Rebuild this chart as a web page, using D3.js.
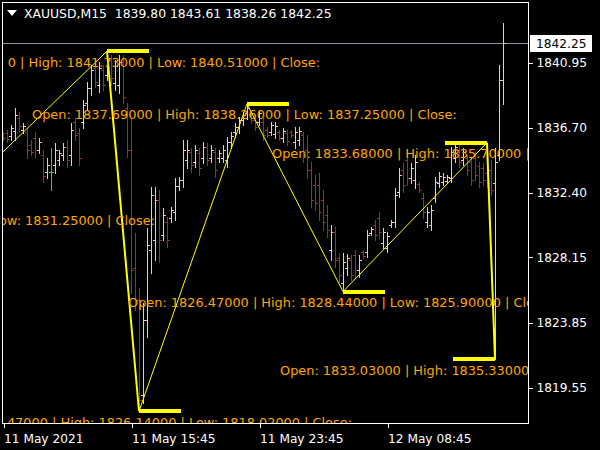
<!DOCTYPE html>
<html><head><meta charset="utf-8">
<script src="https://cdn.jsdelivr.net/npm/d3@7"></script>
<style>html,body{margin:0;padding:0;background:#000;}svg{display:block;}</style>
</head><body>
<script>
// ---------- data ----------
const symbol = "XAUUSD,M15";
const opens = [
1836.28,1836.34,1836.15,1836.47,1837.33,1836.54,1836.41,1835.55,1836.01,1835.23,
1834.90,1833.78,1833.78,1834.24,1834.57,1834.90,1835.42,1834.90,1837.07,1836.34,
1837.07,1838.32,1839.30,1840.62,1839.50,1840.49,1840.16,1841.15,1839.63,1839.50,
1841.02,1837.99,1835.23,1827.45,1825.35,1819.10,1824.03,1828.64,1829.30,1831.93,
1829.63,1830.49,1830.75,1831.15,1832.85,1833.25,1834.57,1835.10,1834.44,1835.03,
1834.70,1835.42,1834.70,1835.10,1834.70,1834.70,1834.57,1835.75,1836.41,1836.74,
1837.20,1837.69,1837.53,1837.20,1837.07,1837.07,1836.54,1836.41,1836.28,1836.41,
1836.01,1836.34,1836.41,1835.75,1835.88,1836.21,1835.23,1833.91,1832.92,1832.92,
1831.93,1830.95,1828.64,1829.83,1828.12,1826.47,1827.46,1827.98,1828.31,1827.33,
1828.51,1828.51,1829.76,1830.29,1830.75,1829.10,1828.77,1830.29,1830.49,1832.46,
1833.91,1834.57,1833.38,1833.25,1832.99,1832.07,1830.49,1830.29,1832.07,1833.05,
1833.12,1833.18,1833.38,1834.70,1835.23,1834.57,1834.70,1834.44,1834.70,1834.17,
1834.04,1833.68,1833.91,1833.03,1834.90,1839.80];
const highs = [
1836.41,1836.54,1836.87,1837.99,1837.73,1837.00,1836.67,1835.88,1836.41,1836.01,
1835.23,1834.70,1835.36,1835.68,1835.23,1835.68,1835.88,1837.00,1837.33,1836.67,
1838.52,1839.70,1840.82,1841.02,1841.02,1840.82,1841.73,1841.48,1841.15,1841.48,
1841.48,1838.32,1837.40,1829.76,1826.14,1825.15,1830.09,1832.79,1832.79,1832.59,
1831.40,1830.82,1831.47,1833.38,1833.45,1835.88,1835.88,1835.36,1835.55,1835.36,
1835.75,1835.68,1835.55,1835.36,1835.23,1835.55,1836.08,1836.41,1837.00,1837.40,
1837.73,1838.26,1837.66,1837.40,1837.86,1837.33,1836.74,1837.07,1837.07,1836.54,
1836.67,1836.54,1836.54,1836.74,1836.74,1836.41,1836.21,1834.44,1833.58,1833.71,
1832.59,1831.61,1830.29,1830.16,1828.45,1828.44,1828.40,1828.31,1828.64,1828.31,
1828.64,1829.96,1830.16,1830.62,1831.15,1830.09,1829.83,1830.62,1832.72,1834.04,
1834.37,1835.23,1834.37,1834.90,1833.12,1832.39,1831.47,1831.61,1833.45,1833.78,
1833.71,1833.58,1835.42,1835.62,1835.55,1835.36,1834.90,1834.70,1835.10,1834.44,
1834.37,1835.70,1834.57,1835.33,1840.82,1843.61];
const lows = [
1835.88,1835.75,1835.88,1835.88,1836.41,1836.34,1834.70,1834.90,1834.77,1835.03,
1833.12,1833.38,1832.59,1833.71,1834.24,1834.57,1834.11,1834.24,1835.88,1834.24,
1836.67,1837.86,1838.85,1839.37,1839.05,1839.18,1839.83,1839.50,1839.18,1838.98,
1838.32,1834.77,1825.81,1824.69,1818.02,1818.57,1822.92,1827.13,1827.98,1827.85,
1829.30,1828.84,1830.49,1830.62,1832.59,1832.79,1834.04,1833.78,1834.11,1833.58,
1834.37,1834.24,1834.44,1833.45,1834.44,1834.44,1834.11,1835.36,1836.08,1836.34,
1836.87,1837.25,1837.00,1836.54,1836.87,1835.88,1836.08,1836.21,1836.01,1835.88,
1835.75,1835.55,1836.08,1835.36,1835.55,1834.44,1833.38,1831.47,1831.28,1830.62,
1829.96,1829.50,1827.98,1827.52,1826.54,1825.90,1827.00,1826.67,1826.87,1826.87,
1828.12,1828.18,1829.63,1829.30,1829.43,1828.77,1828.51,1830.16,1830.16,1832.13,
1832.46,1832.92,1833.05,1832.72,1832.46,1830.75,1830.16,1829.96,1831.80,1832.79,
1832.92,1833.05,1833.12,1834.44,1834.11,1834.24,1833.58,1832.92,1833.25,1832.79,
1832.92,1832.79,1832.26,1821.45,1834.57,1838.26];
const closes = [
1836.01,1835.95,1836.67,1837.53,1836.81,1836.81,1835.23,1835.10,1835.23,1835.75,
1833.52,1834.24,1833.78,1835.23,1835.03,1835.42,1834.57,1836.54,1836.21,1834.70,
1838.19,1839.30,1840.49,1839.70,1840.62,1839.50,1841.28,1839.96,1840.76,1841.02,
1838.72,1835.23,1827.33,1825.35,1818.77,1824.03,1828.97,1832.26,1831.93,1829.30,
1830.95,1829.30,1831.28,1832.85,1833.25,1835.23,1835.23,1834.24,1835.23,1834.04,
1835.42,1834.57,1835.23,1833.91,1835.03,1835.23,1835.75,1836.15,1836.74,1837.20,
1837.53,1837.99,1837.20,1836.74,1837.66,1836.21,1836.21,1836.87,1836.81,1836.01,
1836.47,1835.82,1836.21,1836.41,1836.47,1834.90,1833.91,1831.93,1831.74,1831.15,
1830.49,1829.96,1829.83,1827.98,1827.00,1827.85,1828.12,1827.00,1827.33,1827.98,
1828.25,1829.63,1830.03,1829.63,1829.83,1829.83,1829.56,1830.49,1832.26,1833.58,
1832.92,1833.38,1834.04,1834.44,1832.59,1831.15,1831.15,1831.28,1833.12,1833.52,
1833.45,1833.45,1835.10,1835.42,1834.44,1835.10,1833.91,1833.25,1833.58,1833.12,
1833.25,1833.05,1832.59,1834.40,1839.80,1842.25];

const timeTickIndex  = [0, 32, 64, 96];
const timeTickLabels = ["11 May 2021", "11 May 15:45", "11 May 23:45", "12 May 08:45"];
const priceTicks     = [1840.95, 1836.70, 1832.40, 1828.15, 1823.85, 1819.55];

const zigzagIndex = [0, 26, 34, 61, 85, 121, 123];
const zigzagPrice = [1835.10, 1841.73, 1818.02, 1838.26, 1825.90, 1835.70, 1821.45];

const noteTexts = [
  "0 | High: 1841.73000 | Low: 1840.51000 | Close:",
  "Open: 1837.69000 | High: 1838.26000 | Low: 1837.25000 | Close:",
  "ow: 1831.25000 | Close:",
  "Open: 1833.68000 | High: 1835.70000 |",
  "Open: 1826.47000 | High: 1828.44000 | Low: 1825.90000 | Close:",
  "Open: 1833.03000 | High: 1835.33000",
  "47000 | High: 1826.14000 | Low: 1818.02000 | Close:"
];

// ---------- layout / style ----------
const noteLayout = [
  {x:320, y:62,  anchor:"end"},
  {x:32,  y:114, anchor:"start"},
  {x:155, y:220, anchor:"end"},
  {x:272, y:153, anchor:"start"},
  {x:128, y:302, anchor:"start"},
  {x:280, y:370, anchor:"start"},
  {x:352, y:422, anchor:"end"}
];
const zigzagWidths = [1, 2, 1, 1, 1, 2];
const markerSide = [0, 1, 1, 1, 1, -1, -1];
const FONT = "DejaVu Sans";
const W = 600, H = 450;
const P = {left:3, right:528, top:2, bottom:423};

const x = d3.scaleLinear().domain([0, 131.25]).range([P.left, P.right]);
const y = d3.scaleLinear().domain([1817.245, 1844.967]).range([P.bottom, P.top]);
const snap = v => Math.round(v) + 0.5;

const svg = d3.select("body").append("svg").attr("width", W).attr("height", H)
  .style("background", "#000");
svg.append("rect").attr("width", W).attr("height", H).attr("fill", "#000");
svg.append("defs").append("clipPath").attr("id", "pc").append("rect")
  .attr("x", P.left).attr("y", P.top + 1).attr("width", P.right - P.left).attr("height", P.bottom - P.top - 1);

const g = svg.append("g").attr("clip-path", "url(#pc)");

// current price line
const last = closes.length - 1;
g.append("line").attr("x1", P.left).attr("x2", P.right)
  .attr("y1", snap(y(closes[last]))).attr("y2", snap(y(closes[last])))
  .attr("stroke", "#8a96a6").attr("stroke-width", 1).attr("shape-rendering", "crispEdges");

// OHLC bars
const barColor = i => closes[i] > opens[i] ? "#ffc0cb" : (closes[i] < opens[i] ? "#a52a2a" : "#20e020");
const bars = g.append("g").attr("shape-rendering", "crispEdges");
d3.range(opens.length).forEach(i => {
  const cx = snap(x(i)), c = barColor(i);
  bars.append("line").attr("x1", cx).attr("x2", cx)
    .attr("y1", Math.round(y(highs[i]))).attr("y2", Math.round(y(lows[i])) + 1)
    .attr("stroke", c);
  bars.append("line").attr("x1", cx - 2.5).attr("x2", cx)
    .attr("y1", snap(y(opens[i]))).attr("y2", snap(y(opens[i]))).attr("stroke", c);
  bars.append("line").attr("x1", cx).attr("x2", cx + 2.5)
    .attr("y1", snap(y(closes[i]))).attr("y2", snap(y(closes[i]))).attr("stroke", c);
});

// zigzag
for (let k = 0; k < zigzagIndex.length - 1; k++) {
  g.append("line")
    .attr("x1", x(zigzagIndex[k])).attr("y1", y(zigzagPrice[k]))
    .attr("x2", x(zigzagIndex[k + 1])).attr("y2", y(zigzagPrice[k + 1]))
    .attr("stroke", "#ffff00").attr("stroke-width", zigzagWidths[k]);
}
// pivot markers
zigzagIndex.forEach((idx, k) => {
  if (!markerSide[k]) return;
  const x0 = x(idx), len = x(10.5) - x(0);
  g.append("rect")
    .attr("x", markerSide[k] > 0 ? x0 : x0 - len)
    .attr("y", Math.round(y(zigzagPrice[k])) - 2)
    .attr("width", len).attr("height", 4).attr("fill", "#ffff00");
});

// notes
noteTexts.forEach((t, k) => {
  const L = noteLayout[k];
  g.append("text").attr("x", L.x).attr("y", L.y).attr("dy", "0.36em")
    .attr("text-anchor", L.anchor).attr("font-family", FONT).attr("font-size", 12.9)
    .attr("fill", "#ffa500").text(t);
});

// header
svg.append("path").attr("d", "M7,10 L17,10 L12,16 Z").attr("fill", "#fff");
svg.append("text").attr("x", 24).attr("y", 14).attr("dy", "0.36em")
  .attr("font-family", FONT).attr("font-size", 12.4).attr("fill", "#fff")
  .style("white-space", "pre")
  .text(`${symbol}  ${opens[last].toFixed(2)} ${highs[last].toFixed(2)} ${lows[last].toFixed(2)} ${closes[last].toFixed(2)}`);

// border
svg.append("rect").attr("x", P.left - 0.5).attr("y", P.top + 0.5)
  .attr("width", P.right - P.left + 0.5).attr("height", P.bottom - P.top)
  .attr("fill", "none").attr("stroke", "#fff").attr("shape-rendering", "crispEdges");

// right axis
const yAxis = d3.axisRight(y).tickValues(priceTicks).tickSize(4).tickPadding(4)
  .tickFormat(d => d.toFixed(2));
const ya = svg.append("g").attr("transform", `translate(${P.right + 0.5},0)`).call(yAxis);
ya.select(".domain").remove();
ya.selectAll(".tick line").attr("stroke", "#fff").attr("shape-rendering", "crispEdges");
ya.selectAll(".tick text").attr("fill", "#fff").attr("font-family", FONT).attr("font-size", 12.2);

// bottom axis
const xAxis = d3.axisBottom(x).tickValues(timeTickIndex).tickSize(5).tickPadding(6)
  .tickFormat((d, i) => timeTickLabels[i]);
const xa = svg.append("g").attr("transform", `translate(0.5,${P.bottom})`).call(xAxis);
xa.select(".domain").remove();
xa.selectAll(".tick line").attr("stroke", "#fff").attr("shape-rendering", "crispEdges");
xa.selectAll(".tick text").attr("fill", "#fff").attr("font-family", FONT).attr("font-size", 12.2)
  .attr("text-anchor", "start").attr("x", 0);

// current price box
const cy = y(closes[last]);
svg.append("rect").attr("x", 530).attr("y", Math.round(cy) - 8).attr("width", 62).attr("height", 17)
  .attr("fill", "#fff");
svg.append("text").attr("x", 536).attr("y", cy).attr("dy", "0.36em")
  .attr("font-family", FONT).attr("font-size", 12.2).attr("fill", "#000")
  .text(closes[last].toFixed(2));
</script>
</body></html>
